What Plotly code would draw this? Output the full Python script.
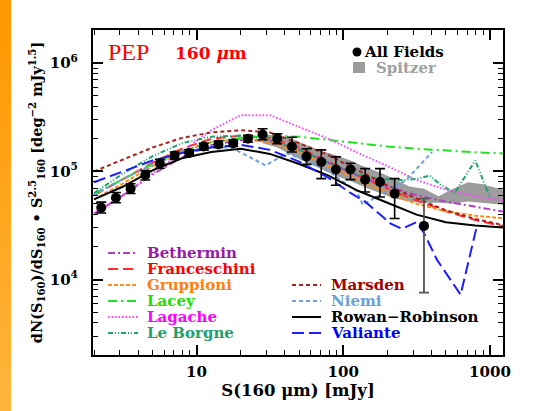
import plotly.graph_objects as go

# ---------------- data ----------------
S_data = [2.24, 2.82, 3.55, 4.47, 5.62, 7.08, 8.91, 11.2, 14.1, 17.8, 22.4,
          28.2, 35.5, 44.7, 56.2, 70.8, 89.1, 112, 141, 178, 224, 355]
N_data = [46200, 57100, 69200, 92500, 118000, 140000, 148000, 170000, 177000,
          182000, 200000, 219000, 200000, 170000, 137000, 122000, 104000,
          104000, 83800, 79800, 62200, 31300]
N_up = [51900, 63800, 76700, 102000, 129000, 151000, 158000, 182000, 191000,
        195000, 215000, 248000, 222000, 207000, 162000, 158000, 136000,
        119000, 106000, 106000, 85700, 56000]
N_lo = [41200, 51300, 62400, 83200, 107000, 129000, 138000, 158000, 166000,
        170000, 186000, 196000, 180000, 151000, 116000, 85700, 74300,
        83800, 64400, 57900, 36600, 7550]

S_band = [28.2, 35.5, 44.7, 56.2, 70.8, 89.1, 112, 141, 178, 224, 282, 355,
          447, 562, 708, 891, 1230]
band_top = [219000, 214000, 200000, 174000, 155000, 141000, 126000, 110000,
            97700, 85100, 72400, 69200, 58900, 69200, 79400, 75900, 67600]
band_bot = [182000, 166000, 141000, 120000, 105000, 91200, 81300, 70800,
            63100, 56200, 52500, 51300, 51300, 50100, 52500, 51300, 49000]

S_grid = [2.0, 3.16, 5.01, 7.94, 12.6, 20.0, 31.6, 50.1, 79.4, 126, 200,
          316, 501, 794, 1259]
bethermin = [40700, 60300, 93300, 135000, 174000, 195000, 191000, 158000,
             120000, 91200, 72400, 60300, 52500, 46800, 42200]
franceschini = [60300, 85100, 120000, 162000, 200000, 214000, 204000, 166000,
                123000, 91200, 69200, 53700, 42700, 35500, 30900]
gruppioni = [55000, 77600, 112000, 151000, 186000, 200000, 186000, 151000,
             112000, 83200, 63100, 50100, 42700, 38900, 36700]
lacey = [61700, 85100, 117000, 155000, 186000, 204000, 214000, 209000,
         195000, 182000, 170000, 162000, 155000, 150000, 146000]
lagache = [39800, 60300, 95500, 151000, 240000, 331000, 331000, 257000,
           200000, 148000, 112000, 83200, 67600, 58900, 53700]
marsden = [100000, 129000, 166000, 204000, 229000, 240000, 229000, 182000,
           141000, 102000, 74100, 56200, 43600, 36300, 31600]
rowan = [55000, 72400, 102000, 132000, 151000, 162000, 145000, 117000,
         91200, 66100, 51300, 39800, 33900, 31600, 30200]

S_leborgne = [2.0, 3.16, 5.01, 7.94, 12.6, 20.0, 31.6, 50.1, 79.4, 126, 178,
              257, 316, 389, 457, 575, 794, 1000]
leborgne = [63100, 95500, 138000, 182000, 209000, 214000, 195000, 158000,
            120000, 93300, 85100, 83200, 85100, 91200, 75900, 63100, 126000,
            57500]

S_niemi = [2.0, 3.16, 5.01, 7.94, 12.6, 17.0, 20.9, 29.5, 41.2, 56.2, 79.4,
           123, 136, 178, 269, 403]
niemi = [60300, 85100, 115000, 148000, 170000, 166000, 145000, 113500,
         146600, 126000, 100000, 66100, 49000, 60300, 83200, 151000]

S_valiante = [2.0, 3.16, 5.01, 7.94, 12.6, 20.0, 31.6, 50.1, 79.4, 112, 141,
              209, 251, 316, 355, 437, 631, 813]
valiante = [79400, 100000, 126000, 148000, 166000, 176000, 158000, 123000,
            87100, 63100, 52500, 33100, 29500, 33900, 26900, 15100, 7240,
            30900]

# name, x, y, line colour, text colour, dash, legend column
models = [
    ("Bethermin", S_grid, bethermin, "#b040c0", "#9a1aa8", "7px,3px,2px,3px", 0),
    ("Franceschini", S_grid, franceschini, "#ff3030", "#ff0000", "10px,5px", 0),
    ("Gruppioni", S_grid, gruppioni, "#ff8c1a", "#ff7f10", "4px,2px", 0),
    ("Lacey", S_grid, lacey, "#22e022", "#1ee000", "9px,4px,2px,4px", 0),
    ("Lagache", S_grid, lagache, "#ff40ff", "#ff00ff", "1.5px,2px", 0),
    ("Le Borgne", S_leborgne, leborgne, "#20a070", "#20a070", "5px,2px,1px,2px,1px,2px", 0),
    ("Marsden", S_grid, marsden, "#a82020", "#a00000", "4px,3px", 1),
    ("Niemi", S_niemi, niemi, "#6ca0d8", "#6ca0d8", "4px,3px", 1),
    ("Rowan−Robinson", S_grid, rowan, "#000000", "#000000", "solid", 1),
    ("Valiante", S_valiante, valiante, "#1e1eff", "#0000ff", "12px,5px", 1),
]

FONT = "DejaVu Serif"
W, H = 558, 411
ML, MR, MT, MB = 93, 55, 30, 56
PW, PH = W - ML - MR, H - MT - MB


def px(x):
    return (x - ML) / PW


def py(y):
    return 1 - (y - MT) / PH


fig = go.Figure()

# Spitzer band
fig.add_trace(go.Scatter(x=S_band, y=band_top, mode="lines", line=dict(width=0),
                         showlegend=False, hoverinfo="skip"))
fig.add_trace(go.Scatter(x=S_band, y=band_bot, mode="lines", line=dict(width=0),
                         fill="tonexty", fillcolor="#9c9c9c", showlegend=False,
                         name="Spitzer"))

for name, xs, ys, lc, tc, dash, col in models:
    fig.add_trace(go.Scatter(x=xs, y=ys, mode="lines",
                             line=dict(color=lc, width=2, dash=dash),
                             name=name, showlegend=False))

# data points: all but last with black error bars, last with grey bar
n = len(S_data)
ep = [u - y for u, y in zip(N_up, N_data)]
em = [y - l for l, y in zip(N_lo, N_data)]
fig.add_trace(go.Scatter(x=S_data[:n - 1], y=N_data[:n - 1], mode="markers",
                         marker=dict(color="black", size=10),
                         error_y=dict(type="data", symmetric=False,
                                      array=ep[:n - 1], arrayminus=em[:n - 1],
                                      color="black", thickness=1.6, width=5),
                         name="All Fields", showlegend=False))
fig.add_trace(go.Scatter(x=S_data[n - 1:], y=N_data[n - 1:], mode="markers",
                         marker=dict(color="black", size=10),
                         error_y=dict(type="data", symmetric=False,
                                      array=ep[n - 1:], arrayminus=em[n - 1:],
                                      color="#555555", thickness=1.8, width=5),
                         showlegend=False))

# minor tick positions
xminor = [m * 10 ** e for e in range(0, 4) for m in range(2, 10)]
yminor = [m * 10 ** e for e in range(3, 7) for m in range(2, 10)]

tickfont = dict(family=FONT, size=15, color="black", weight="bold")
common = dict(type="log", showline=True, linecolor="black", linewidth=2.2,
              mirror="allticks", ticks="inside", ticklen=10, tickwidth=1.5,
              tickcolor="black", showgrid=False, zeroline=False,
              tickfont=tickfont)

fig.update_layout(
    width=W, height=H,
    margin=dict(l=ML, r=MR, t=MT, b=MB),
    paper_bgcolor="white", plot_bgcolor="white",
    showlegend=False,
    xaxis=dict(**common, range=[0.294, 3.089],
               tickvals=[10, 100, 1000], ticktext=["10", "100", "1000"],
               ticklabelstandoff=2,
               minor=dict(ticks="inside", ticklen=5, tickwidth=1.2,
                          tickcolor="black", tickvals=xminor),
               title=dict(text="S(160 μm) [mJy]", standoff=4,
                          font=dict(family=FONT, size=16.5, color="black",
                                    weight="bold"))),
    yaxis=dict(**common, range=[3.302, 6.307],
               tickvals=[1e4, 1e5, 1e6],
               ticktext=["10<sup>4</sup>", "10<sup>5</sup>", "10<sup>6</sup>"],
               ticklabelstandoff=10,
               minor=dict(ticks="inside", ticklen=5, tickwidth=1.2,
                          tickcolor="black", tickvals=yminor),
               title=dict(text="dN(S<sub>160</sub>)/dS<sub>160</sub> • "
                               "S<sup>2.5</sup><sub>160</sub> [deg<sup>−2</sup> "
                               "mJy<sup>1.5</sup>]", standoff=4,
                          font=dict(family=FONT, size=14.5, color="black",
                                    weight="bold"))),
)

# ---- custom legend (layout decoration) ----
rows_left = [253, 269, 285, 301, 317, 333]
rows_right = [285, 301, 317, 333]
il = ir = 0
for name, xs, ys, lc, tc, dash, col in models:
    if col == 0:
        yy, xa, xb, xt = rows_left[il], 108, 138, 146
        il += 1
    else:
        yy, xa, xb, xt = rows_right[ir], 292, 321, 330
        ir += 1
    fig.add_shape(type="line", xref="paper", yref="paper",
                  x0=px(xa), x1=px(xb), y0=py(yy), y1=py(yy),
                  line=dict(color=lc, width=2, dash=dash))
    fig.add_annotation(text=name, xref="paper", yref="paper", x=px(xt),
                       y=py(yy), xanchor="left", yanchor="middle",
                       showarrow=False, borderpad=0,
                       font=dict(family=FONT, size=15, color=tc, weight="bold"))

# All Fields / Spitzer key
fig.add_shape(type="circle", xref="paper", yref="paper",
              x0=px(352.5), x1=px(361.5), y0=py(56.5), y1=py(47.5),
              fillcolor="black", line=dict(width=0))
fig.add_annotation(text="All Fields", xref="paper", yref="paper", x=px(363),
                   y=py(52), xanchor="left", yanchor="middle", showarrow=False,
                   borderpad=0,
                   font=dict(family=FONT, size=15, color="black", weight="bold"))
fig.add_shape(type="rect", xref="paper", yref="paper",
              x0=px(353), x1=px(365), y0=py(73), y1=py(62),
              fillcolor="#9c9c9c", line=dict(width=0))
fig.add_annotation(text="Spitzer", xref="paper", yref="paper", x=px(375),
                   y=py(68), xanchor="left", yanchor="middle", showarrow=False,
                   borderpad=0,
                   font=dict(family=FONT, size=15, color="#a0a0a0", weight="bold"))

# orange side bar (decoration), stacked rectangles approximating gradient
x0p = px(0)
x1p = px(11)
steps = 20
for i in range(steps):
    t = i / (steps - 1)
    r, g, b = 255, int(152 + t * (180 - 152)), int(0 + t * (60 - 0))
    y_top = py(i * H / steps)
    y_bot = py((i + 1) * H / steps)
    fig.add_shape(type="rect", xref="paper", yref="paper",
                  x0=x0p, x1=x1p, y0=y_bot - 0.002, y1=y_top,
                  line=dict(width=0), fillcolor=f"rgb({r},{g},{b})", layer="below")

fig.add_annotation(text="PEP", xref="paper", yref="paper", x=px(106),
                   y=py(52), xanchor="left", yanchor="middle", showarrow=False,
                   font=dict(family="Liberation Serif", size=24, color="#ff0000"))
fig.add_annotation(text="160 <i>μ</i>m", xref="paper", yref="paper", x=px(173),
                   y=py(53), xanchor="left", yanchor="middle", showarrow=False,
                   font=dict(family=FONT, size=17, color="#ff0000", weight="bold"))

fig.write_html("out.html")
